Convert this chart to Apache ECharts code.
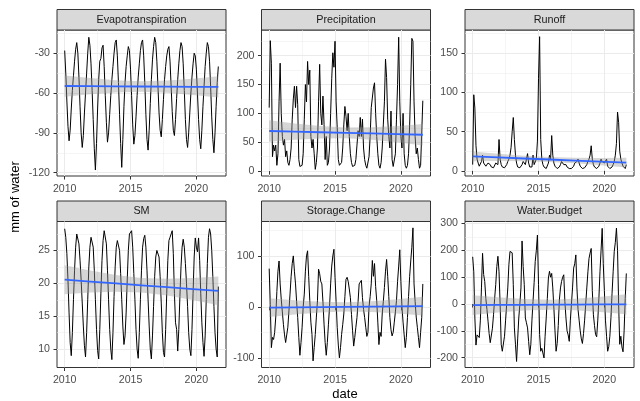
<!DOCTYPE html>
<html><head><meta charset="utf-8">
<script src="https://cdn.jsdelivr.net/npm/echarts@6/dist/echarts.min.js"></script>
<style>html,body{margin:0;padding:0;background:#fff}#c{width:640px;height:401px}</style>
</head><body><div id="c"></div>
<script>
// ---------- data ----------
const startYear = 2010;           // first month: Jan 2010, monthly steps
const panelNames = ['Evapotranspiration', 'Precipitation', 'Runoff', 'SM', 'Storage.Change', 'Water.Budget'];

const evapotranspiration = [
  -28, -45, -66, -85, -96, -88, -72, -58, -47, -36, -27, -22,
  -30, -48, -70, -90, -101, -92, -75, -60, -45, -30, -18, -24,
  -38, -58, -80, -102, -118, -98, -72, -50, -36, -34, -26, -24,
  -40, -62, -82, -97, -90, -76, -62, -50, -40, -30, -22, -20,
  -32, -52, -76, -98, -116, -95, -70, -52, -40, -32, -25, -28,
  -42, -62, -84, -98.5, -92, -78, -62, -48, -38, -28, -22, -20,
  -32, -52, -76, -95, -103, -88, -68, -50, -35, -25, -18, -22,
  -36, -55, -75, -88, -93, -80, -65, -50, -40, -32, -27, -25,
  -36, -55, -74, -88, -92, -80, -64, -50, -38, -28, -22, -25,
  -38, -58, -80, -95, -101, -90, -75, -60, -48, -38, -30, -32,
  -42, -60, -80, -95, -102, -88, -70, -55, -40, -30, -22, -25,
  -36, -55, -78, -95, -105, -90, -70, -52, -40
];
const precipitation = [
  110, 226, 187, 25, 45, 35, 45, 10, 30, 120, 187, 100,
  60, 45, 55, 25, 35, 15, 10, 20, 40, 90, 125, 147,
  110, 147, 115, 20, 8, 5, 10, 30, 90, 150, 120, 190,
  150, 175, 60, 40, 55, 30, 3, 15, 40, 120, 185, 100,
  80, 130, 81, 20, 60, 10, 15, 40, 100, 160, 205, 180,
  225, 120, 75, 20, 10, 8, 15, 40, 80, 112, 95, 70,
  100, 60, 30, 15, 8, 5, 10, 20, 45, 70, 60, 93,
  60, 90, 40, 20, 10, 5, 8, 25, 60, 110, 112, 144,
  153, 100, 60, 30, 10, 5, 15, 40, 80, 120, 194, 162,
  90, 60, 40, 104, 20, 8, 10, 30, 90, 150, 232, 120,
  60, 40, 100, 30, 10, 5, 10, 30, 80, 150, 230, 225,
  120, 60, 30, 40, 20, 5, 10, 8, 122
];
const runoff = [
  8, 97, 80, 32, 15, 10, 6, 8, 12, 20, 10, 8,
  6, 5, 10, 12, 8, 5, 3, 4, 6, 10, 12, 8,
  40, 15, 8, 5, 3, 4, 6, 8, 12, 15, 20, 30,
  50, 68, 40, 20, 10, 5, 3, 4, 6, 8, 12, 10,
  8, 10, 22, 10, 5, 3, 5, 20, 8, 10, 15, 38,
  118, 171, 40, 15, 8, 5, 4, 3, 5, 10, 20, 15,
  45, 20, 10, 6, 4, 3, 3, 5, 8, 12, 10, 8,
  10, 8, 5, 4, 3, 2, 3, 4, 6, 10, 8, 12,
  15, 10, 6, 4, 3, 3, 4, 5, 8, 12, 15, 20,
  32, 15, 8, 5, 4, 3, 4, 6, 10, 15, 12, 14,
  10, 8, 15, 6, 4, 3, 3, 5, 8, 12, 20, 35,
  75, 62, 25, 15, 10, 6, 4, 3, 8
];
const soilMoisture = [
  28.3, 27.0, 24.5, 20.5, 15.5, 11.0, 9.0, 12.5, 17.5, 22.0, 25.5, 27.5,
  27.3, 26.0, 23.5, 20.5, 17.0, 13.5, 10.5, 8.8, 12.5, 17.5, 22.5, 25.5,
  27.0, 27.3, 25.5, 22.0, 17.5, 13.0, 9.8, 8.5, 13.0, 18.5, 23.5, 26.5,
  28.0, 28.3, 26.0, 22.0, 17.5, 13.0, 10.0, 8.4, 12.5, 18.0, 22.5, 25.5,
  26.5, 26.8, 25.0, 21.5, 17.5, 13.5, 10.7, 12.0, 15.5, 20.5, 25.0, 27.5,
  27.8, 28.0, 25.5, 21.5, 17.5, 13.0, 10.0, 8.6, 12.5, 17.5, 22.0, 25.5,
  26.8, 27.3, 25.5, 22.0, 17.5, 13.5, 10.0, 8.5, 12.0, 16.5, 21.0, 24.0,
  25.0, 25.3, 24.0, 21.0, 17.0, 12.5, 9.5, 8.8, 13.0, 18.5, 23.5, 26.5,
  27.0, 27.5, 28.0, 24.5, 18.5, 14.0, 13.0, 9.7, 13.0, 18.0, 22.5, 25.5,
  26.7, 25.5, 23.0, 20.0, 16.5, 12.5, 10.0, 9.0, 13.0, 18.5, 24.0, 26.9,
  25.5, 24.8, 26.9, 23.5, 18.5, 14.0, 11.0, 8.9, 12.0, 17.5, 23.0, 27.0,
  28.3, 27.5, 25.0, 21.0, 16.5, 12.5, 10.0, 8.8, 19.5
];
const storageChange = [
  75, 5, -80, -60, -64, -50, -20, 30, 70, 90, 45, 15,
  -10, -35, -55, -70, -68, -40, -8, 25, 60, 85, 100, 70,
  45, 10, -21, -60, -95, -70, -40, 0, 25, 70, 100, 110,
  60, 12, -30, -54, -106, -80, -54, -20, 12, 74, 65, 50,
  45, 10, -34, -70, -95, -70, -34, 0, 45, 80, 100, 113,
  58, 10, -40, -75, -100, -80, -54, -35, -14, 20, 54, 58,
  50, 35, 18, -15, -47, -77, -60, -40, -21, 10, 45, 48,
  52, 18, -5, -21, -40, -58, -50, 0, 20, 45, 91, 60,
  85, 40, 12, -30, -74, -50, -58, -14, 10, 38, 70, 93,
  60, 20, -21, -45, -57, -50, -30, -10, 12, 50, 80, 112,
  50, 0, -30, -55, -80, -60, -21, 20, 60, 90, 117, 155,
  45, 10, -20, -40, -60, -80, -50, -21, 45
];
const waterBudget = [
  176, 120, -52, -153, -115, -118, -125, -60, 60, 189, 110, 84,
  20, -20, -64, -110, -144, -139, -90, -40, 20, 72, 140, 178,
  120, 0, -150, -176, -178, -120, -60, 0, 60, 147, 196, 195,
  191, 72, -89, -150, -214, -130, -52, 0, 60, 235, 140, 72,
  -52, -70, -89, -140, -189, -150, -60, 10, 80, 159, 200, 257,
  72, -114, -176, -165, -160, -201, -120, -52, 20, 97, 122, 100,
  114, 60, -15, -100, -176, -147, -80, 15, 60, 84, 100, 109,
  10, -52, -100, -115, -139, -60, 0, 60, 134, 150, 183, 60,
  -20, -60, -100, -130, -147, -110, -60, 0, 60, 120, 170, 190,
  207, 50, -40, -80, -114, -122, -60, 20, 120, 200, 282, 150,
  50, -60, -120, -176, -159, -120, -50, 40, 120, 196, 230, 283,
  200, 0, -150, -120, -160, -178, -100, 20, 114
];

// smooth fits: x positions in decimal years, fit line, band low / high
const fitX = [2010.0, 2011.94, 2013.89, 2015.83, 2017.78, 2019.72, 2021.67];
const etFit = [-54.7, -54.8, -54.9, -55.05, -55.15, -55.3, -55.4];
const etLo  = [-62.7, -60.9, -59.5, -59.05, -59.75, -61.4, -63.4];
const etHi  = [-46.7, -48.7, -50.3, -51.05, -50.55, -49.2, -47.4];
const prFit = [69.5, 68.4, 67.3, 66.25, 65.2, 64.1, 63.0];
const prLo  = [50.9, 54.2, 56.6, 56.95, 54.5, 49.9, 44.4];
const prHi  = [88.1, 82.6, 78.0, 75.55, 75.9, 78.3, 81.6];
const roFit = [18.5, 17.2, 15.8, 14.5, 13.2, 11.8, 10.5];
const roLo  = [12.3, 12.5, 12.2, 11.4, 9.6, 7.1, 4.3];
const roHi  = [24.7, 21.9, 19.4, 17.6, 16.8, 16.5, 16.7];
const smFit = [20.55, 20.27, 19.98, 19.7, 19.42, 19.13, 18.85];
const smLo  = [18.35, 18.59, 18.71, 18.6, 18.15, 17.45, 16.65];
const smHi  = [22.75, 21.95, 21.25, 20.8, 20.69, 20.81, 21.05];
const scFit = [-1.5, -1.0, -0.5, 0, 0.5, 1.0, 1.5];
const scLo  = [-20, -15.1, -11.2, -9.25, -10.2, -13.1, -17];
const scHi  = [17, 13.1, 10.2, 9.25, 11.2, 15.1, 20];
const wbFit = [-4, -3.5, -3, -2.5, -2, -1.5, -1];
const wbLo  = [-41, -31.8, -24.4, -21, -23.4, -29.8, -38];
const wbHi  = [33, 24.8, 18.4, 16, 19.4, 26.8, 36];

// tick labels
const xTicks = [2010, 2015, 2020];
const xMinor = [2012.5, 2017.5];
const etTicks = [-120, -90, -60, -30], etMinor = [-105, -75, -45, -15];
const prTicks = [0, 50, 100, 150, 200], prMinor = [25, 75, 125, 175, 225];
const roTicks = [0, 50, 100, 150], roMinor = [25, 75, 125, 175];
const smTicks = [10, 15, 20, 25], smMinor = [12.5, 17.5, 22.5, 27.5];
const scTicks = [-100, 0, 100], scMinor = [-50, 50, 150];
const wbTicks = [-200, -100, 0, 100, 200, 300], wbMinor = [-150, -50, 50, 150, 250];

// ---------- layout ----------
const X_MIN = 2009.417, X_MAX = 2022.25;
const colLeft = [57, 261.5, 465], panelW = 169;
const rowTop = [30, 221.5], panelH = 146, stripH = 20.5;
const FONT = 'Liberation Sans, Arial, Helvetica, sans-serif';

const panels = [
  { values: evapotranspiration, fit: etFit, lo: etLo, hi: etHi, ticks: etTicks, minor: etMinor, min: -122.5, max: -12.5 },
  { values: precipitation, fit: prFit, lo: prLo, hi: prHi, ticks: prTicks, minor: prMinor, min: -8.5, max: 244.5 },
  { values: runoff, fit: roFit, lo: roLo, hi: roHi, ticks: roTicks, minor: roMinor, min: -6.5, max: 179.5 },
  { values: soilMoisture, fit: smFit, lo: smLo, hi: smHi, ticks: smTicks, minor: smMinor, min: 7.2, max: 29.4 },
  { values: storageChange, fit: scFit, lo: scLo, hi: scHi, ticks: scTicks, minor: scMinor, min: -119, max: 167.5 },
  { values: waterBudget, fit: wbFit, lo: wbLo, hi: wbHi, ticks: wbTicks, minor: wbMinor, min: -236.5, max: 307.5 }
];

const grids = [], xAxes = [], yAxes = [], series = [], graphics = [];
const gridLine = '#EBEBEB';
const plain = v => String(v);
panels.forEach((p, i) => {
  const left = colLeft[i % 3], top = rowTop[Math.floor(i / 3)];
  grids.push({ left, top, width: panelW, height: panelH, show: true, backgroundColor: '#fff',
               borderColor: '#333333', borderWidth: 1, containLabel: false });
  // major x
  xAxes.push({ type: 'value', gridIndex: i, min: X_MIN, max: X_MAX, position: 'bottom',
    axisLine: { show: false },
    axisTick: { show: true, customValues: xTicks, length: 3.5, lineStyle: { color: '#333333', width: 1 } },
    axisLabel: { show: true, customValues: xTicks, formatter: plain, margin: 7.5, color: '#4D4D4D', fontSize: 10.6, fontFamily: FONT },
    splitLine: { show: true, lineStyle: { color: gridLine, width: 1 } } });
  // minor x
  xAxes.push({ type: 'value', gridIndex: i, min: X_MIN, max: X_MAX, position: 'top',
    axisLine: { show: false }, axisTick: { show: false, customValues: xMinor },
    axisLabel: { show: false, customValues: xMinor },
    splitLine: { show: true, lineStyle: { color: gridLine, width: 0.5 } } });
  // major y
  yAxes.push({ type: 'value', gridIndex: i, min: p.min, max: p.max, position: 'left',
    axisLine: { show: false },
    axisTick: { show: true, customValues: p.ticks, length: 3.5, lineStyle: { color: '#333333', width: 1 } },
    axisLabel: { show: true, customValues: p.ticks, formatter: plain, margin: 7, color: '#4D4D4D', fontSize: 10.6, fontFamily: FONT },
    splitLine: { show: true, lineStyle: { color: gridLine, width: 1 } } });
  // minor y
  yAxes.push({ type: 'value', gridIndex: i, min: p.min, max: p.max, position: 'right',
    axisLine: { show: false }, axisTick: { show: false, customValues: p.minor },
    axisLabel: { show: false, customValues: p.minor },
    splitLine: { show: true, lineStyle: { color: gridLine, width: 0.5 } } });

  const xi = 2 * i, yi = 2 * i;
  series.push({ type: 'line', xAxisIndex: xi, yAxisIndex: yi, showSymbol: false, symbol: 'none',
    data: p.values.map((v, k) => [startYear + k / 12, v]),
    lineStyle: { color: '#000', width: 1 }, silent: true, z: 2 });
  series.push({ type: 'custom', xAxisIndex: xi, yAxisIndex: yi, silent: true, z: 3,
    data: [[fitX[0], p.fit[0]]],
    renderItem: (params, api) => {
      const pts = [];
      for (let k = 0; k < fitX.length; k++) pts.push(api.coord([fitX[k], p.hi[k]]));
      for (let k = fitX.length - 1; k >= 0; k--) pts.push(api.coord([fitX[k], p.lo[k]]));
      return { type: 'polygon', shape: { points: pts }, style: { fill: 'rgba(153,153,153,0.4)' } };
    } });
  series.push({ type: 'line', xAxisIndex: xi, yAxisIndex: yi, showSymbol: false, symbol: 'none',
    data: fitX.map((x, k) => [x, p.fit[k]]),
    lineStyle: { color: '#3366FF', width: 1.8 }, silent: true, z: 4 });

  graphics.push({ type: 'rect', shape: { x: left, y: top - stripH, width: panelW, height: stripH },
    style: { fill: '#D9D9D9', stroke: '#333333', lineWidth: 1 } });
  graphics.push({ type: 'text', x: left + panelW / 2, y: top - stripH / 2,
    style: { text: panelNames[i], fill: '#1A1A1A', fontSize: 10.8, fontFamily: FONT, align: 'center', verticalAlign: 'middle' } });
});
graphics.push({ type: 'text', x: 15, y: 197, rotation: Math.PI / 2,
  style: { text: 'mm of water', fill: '#000', fontSize: 13, fontFamily: FONT, align: 'center', verticalAlign: 'middle' } });
graphics.push({ type: 'text', x: 345, y: 394,
  style: { text: 'date', fill: '#000', fontSize: 13, fontFamily: FONT, align: 'center', verticalAlign: 'middle' } });

const chart = echarts.init(document.getElementById('c'), null, { renderer: 'canvas' });
chart.setOption({
  animation: false,
  backgroundColor: '#fff',
  grid: grids, xAxis: xAxes, yAxis: yAxes, series,
  graphic: { elements: graphics }
});
</script></body></html>
